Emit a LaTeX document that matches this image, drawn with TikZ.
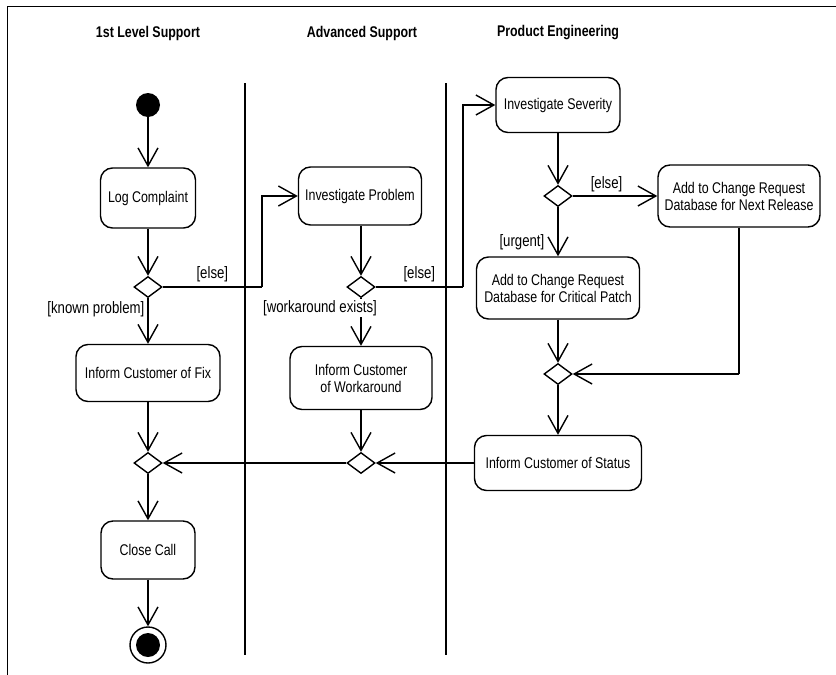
\documentclass[tikz,border=0pt]{standalone}
\usepackage{fontspec}
\setmainfont{Liberation Sans}[FakeStretch=0.8]
\usetikzlibrary{positioning,shapes.geometric,arrows.meta}

\begin{document}
\begin{tikzpicture}[x=1pt,y=-1pt,
    actnode/.style={rectangle, rounded corners=12pt, draw, line width=1.4pt, align=center, font=\fontsize{15.5}{17}\selectfont, inner sep=2pt},
    decnode/.style={diamond, draw, line width=1.4pt, minimum width=28pt, minimum height=21pt, inner sep=0pt},
    startnode/.style={circle, fill=black, minimum size=24pt, inner sep=0pt},
    endnode/.style={circle, draw, line width=1.4pt, minimum size=36pt, inner sep=0pt, path picture={\fill (path picture bounding box.center) circle (12pt);}},
    lanetitle/.style={font=\bfseries\fontsize{15.5}{17}\selectfont},
    guard/.style={font=\fontsize{16.5}{18}\selectfont, inner sep=1pt},
    flow/.style={line width=1.4pt, -{Straight Barb[length=18pt,width=20pt,line width=1.4pt]}},
    plain/.style={line width=1.4pt},
    lane/.style={line width=2pt},
    ]
    \useasboundingbox (0,0) rectangle (836,675);
    %Frame
    \draw[line width=1pt] (7,675) -- (7,6) -- (836,6);

    %Lanes
    \node[lanetitle] (t1) at (148,33) {1st Level Support};
    \node[lanetitle] (t2) at (362,33) {Advanced Support};
    \node[lanetitle] (t3) at (558,33) {Product Engineering};
    \draw[lane] (245,83) -- (245,655);
    \draw[lane] (446,83) -- (446,655);

    %Nodes
    \node[startnode]                        (start)   at (148,105) {};
    \node[actnode, minimum width=95pt, minimum height=60pt]  (log)     at (148,198) {Log Complaint};
    \node[decnode]                          (dknown)  at (148,287) {};
    \node[actnode, minimum width=144pt, minimum height=57pt] (fix)     at (148,373) {Inform Customer of Fix};
    \node[decnode]                          (mfix)    at (148,463) {};
    \node[actnode, minimum width=94pt, minimum height=58pt]  (close)   at (148,550) {Close Call};
    \node[endnode]                          (stop)    at (148,645) {};

    \node[actnode, minimum width=123pt, minimum height=58pt] (invprob) at (360,196) {Investigate Problem};
    \node[decnode]                          (dwork)   at (361,287) {};
    \node[actnode, minimum width=142pt, minimum height=63pt] (work)    at (361,378) {Inform Customer\\of Workaround};
    \node[decnode]                          (mwork)   at (361,463) {};

    \node[actnode, minimum width=124pt, minimum height=55pt] (invsev)  at (558,105) {Investigate Severity};
    \node[decnode]                          (dsev)    at (558,196) {};
    \node[actnode, minimum width=162pt, minimum height=62pt] (nextrel) at (739,196) {Add to Change Request\\Database for Next Release};
    \node[actnode, minimum width=163pt, minimum height=62pt] (patch)   at (558,288) {Add to Change Request\\Database for Critical Patch};
    \node[decnode]                          (msev)    at (558,374) {};
    \node[actnode, minimum width=167pt, minimum height=55pt] (status)  at (558,463) {Inform Customer of Status};

    \coordinate (bendA) at (262,287);
    \coordinate (bendB) at (463,287);
    \coordinate (bendC) at (739,374);

    %Lines
    \draw[flow] (start) -- (log);
    \draw[flow] (log) -- (dknown);
    \draw[flow] (dknown) -- node[guard, pos=0.25, left=2pt] {[known problem]} (fix);
    \draw[plain] (dknown.east) -- node[guard, above=3pt] {[else]} (bendA);
    \draw[flow] (bendA) |- (invprob.west);
    \draw[flow] (fix) -- (mfix);
    \draw[flow] (mfix) -- (close);
    \draw[flow] (close) -- (stop);

    \draw[flow] (dwork |- invprob.south) -- (dwork);
    \draw[flow] (dwork) -- (work);
    \node[guard, fill=white] (lblwork) at (320,308) {[workaround exists]};
    \draw[plain] (dwork.east) -- node[guard, above=3pt] {[else]} (bendB);
    \draw[flow] (bendB) |- (invsev.west);
    \draw[flow] (work) -- (mwork);
    \draw[flow] (mwork) -- (mfix);

    \draw[flow] (invsev) -- (dsev);
    \draw[flow] (dsev) -- node[guard, above=2pt, pos=0.4] {[else]} (nextrel);
    \draw[flow] (dsev) -- node[guard, pos=0.72, left=12pt] {[urgent]} (patch);
    \draw[flow] (patch) -- (msev);
    \draw[plain] (nextrel) -- (bendC);
    \draw[flow] (bendC) -- (msev);
    \draw[flow] (msev) -- (status);
    \draw[flow] (status) -- (mwork);

\end{tikzpicture}
\end{document}
